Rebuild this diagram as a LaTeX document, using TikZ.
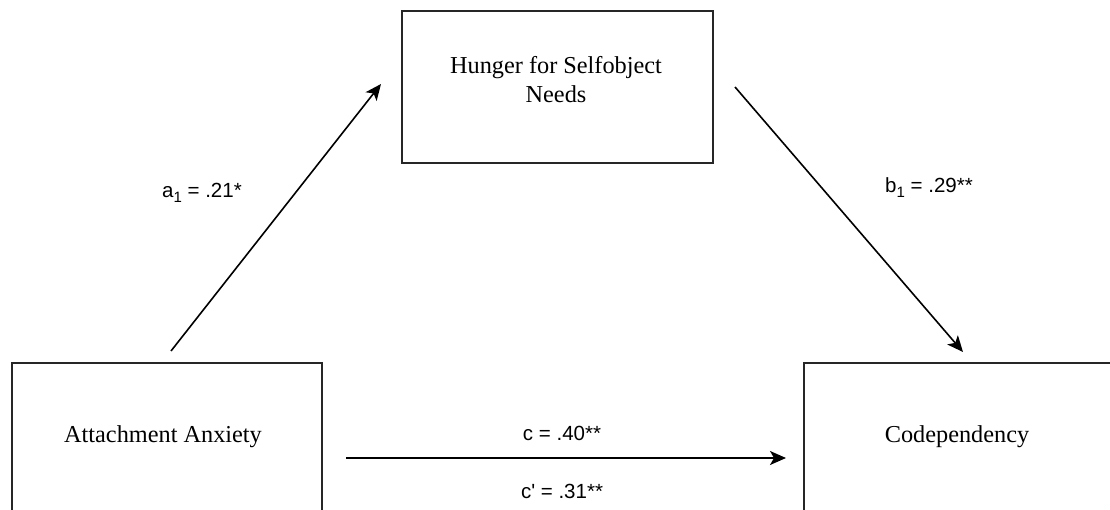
\documentclass[tikz,border=0pt]{standalone}
\usepackage{fontspec}
\setmainfont{Liberation Serif}
\newfontfamily\labelfont{Liberation Sans}
\usetikzlibrary{arrows.meta}
\tikzset{
  box/.style={draw=black!85, line width=1.6pt, fill=white, inner sep=0pt},
  boxtext/.style={font=\fontsize{24.3}{29}\selectfont, align=center, inner sep=0pt},
  coef/.style={font=\labelfont\fontsize{20.5}{24}\selectfont, inner sep=0pt},
  path/.style={line width=1.6pt, -{Stealth[length=16pt, width=14pt, inset=4pt]}}
}
\newcommand{\sbs}[1]{\raisebox{-0.45ex}{\fontsize{15}{15}\selectfont #1}}
\begin{document}
\begin{tikzpicture}[x=1pt, y=-1pt]
\useasboundingbox (0,0) rectangle (1110,510);
\clip (0,0) rectangle (1110,510);
% boxes
\node[box, anchor=north west, minimum width=310pt, minimum height=190pt] (xbox) at (11,362) {};
\node[box, anchor=north west, minimum width=311pt, minimum height=152pt] (mbox) at (401,10) {};
\node[box, anchor=north west, minimum width=380pt, minimum height=190pt] (ybox) at (803,362) {};
% box texts
\node[boxtext] (xtext) at (163,437) {Attachment Anxiety};
\node[boxtext] (mtext) at (556,80) {Hunger for Selfobject\\Needs};
\node[boxtext] (ytext) at (957,437) {Codependency};
% connector ends
\coordinate (aStart) at (171,351);
\coordinate (aEnd) at (381,84);
\coordinate (bStart) at (735,87);
\coordinate (bEnd) at (963,352);
\coordinate (cStart) at (346,458);
\coordinate (cEnd) at (786,458);
\draw[path] (aStart) -- (aEnd);
\draw[path] (bStart) -- (bEnd);
\draw[path] (cStart) -- (cEnd);
% coefficients
\node[coef, anchor=base west] (alab) at (162,198) {a\sbs{1} = .21*};
\node[coef, anchor=base west] (blab) at (885,193) {b\sbs{1} = .29**};
\node[coef, anchor=base] (clab) at (562,440) {c = .40**};
\node[coef, anchor=base] (cplab) at (562,498) {c' = .31**};
\end{tikzpicture}
\end{document}
